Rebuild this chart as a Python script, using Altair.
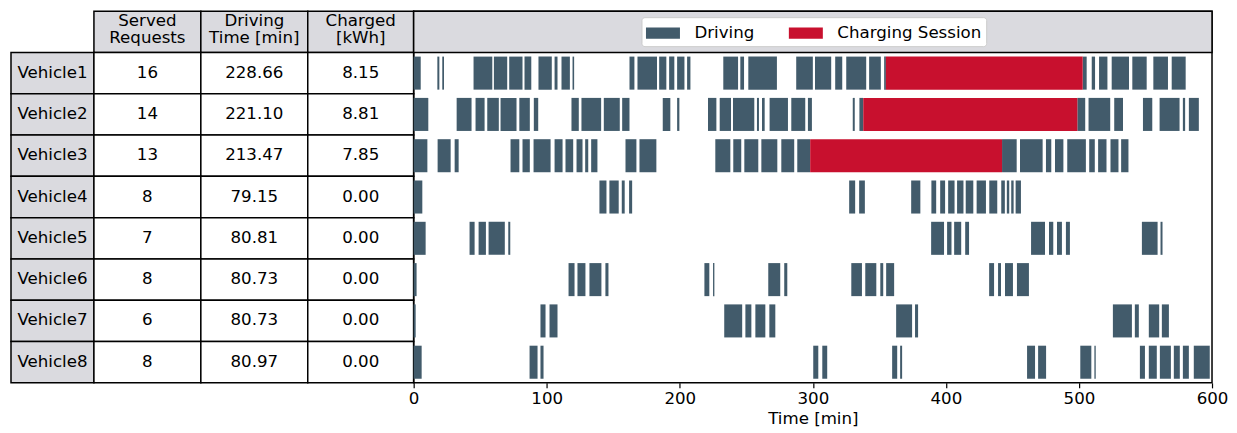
import altair as alt
import pandas as pd

# ---------------- data ----------------
vehicles = ["Vehicle1", "Vehicle2", "Vehicle3", "Vehicle4",
            "Vehicle5", "Vehicle6", "Vehicle7", "Vehicle8"]
served_requests = [16, 14, 13, 8, 7, 8, 6, 8]
driving_time_min = [228.66, 221.10, 213.47, 79.15, 80.81, 80.73, 80.73, 80.97]
charged_kwh = [8.15, 8.81, 7.85, 0.00, 0.00, 0.00, 0.00, 0.00]
header_labels = ["Served\nRequests", "Driving\nTime [min]", "Charged\n[kWh]"]

driving_v1 = [(0, 5.3), (17.8, 19.3), (21.5, 22.8), (45.0, 59.1), (60.3, 70.3), (71.8, 81.8),
              (83.3, 88.4), (93.8, 103.8), (105.9, 108.1), (111.1, 117.4), (119.4, 120.6),
              (162.2, 165.9), (168.2, 182.9), (184.5, 189.9), (192.0, 195.9), (198.0, 203.5),
              (205.5, 208.0), (232.7, 243.8), (245.5, 248.3), (251.5, 273.0), (287.5, 300.0),
              (301.6, 313.8), (316.8, 322.1), (325.1, 340.1), (342.3, 351.1), (353.6, 354.9),
              (502.8, 505.8), (509.6, 512.1), (515.1, 521.4), (524.6, 537.6), (540.1, 550.9),
              (555.9, 566.9), (569.7, 580.2)]
driving_v2 = [(0, 11.0), (32.3, 43.5), (46.5, 53.3), (55.3, 64.0), (65.3, 77.3), (79.4, 87.3),
              (90.3, 93.6), (118.6, 124.1), (126.1, 140.9), (142.9, 154.9), (156.7, 162.2),
              (187.2, 192.9), (198.0, 199.7), (221.2, 227.5), (230.0, 238.5), (240.0, 256.0),
              (258.0, 259.5), (261.8, 263.8), (267.5, 281.3), (283.8, 294.3), (296.3, 299.3),
              (330.0, 331.5), (335.0, 337.9), (498.8, 504.7), (507.2, 523.5), (526.5, 533.1),
              (548.1, 555.1), (560.6, 575.6), (578.1, 579.8), (582.6, 590.1)]
driving_v3 = [(0, 10.3), (18.0, 27.8), (30.8, 33.8), (72.8, 79.4), (81.8, 87.3), (90.1, 102.9),
              (105.9, 111.9), (114.1, 119.9), (122.4, 126.9), (128.9, 131.2), (133.4, 138.1),
              (159.2, 167.4), (169.7, 182.4), (226.7, 238.0), (240.2, 246.2), (248.5, 259.0),
              (261.3, 273.3), (276.3, 286.0), (288.3, 298.0), (442.2, 453.2), (455.7, 472.7),
              (475.2, 479.2), (482.0, 488.3), (491.2, 505.2), (507.7, 511.9), (514.4, 520.7),
              (523.7, 529.7), (531.7, 537.2)]
driving_v4 = [(0, 6.5), (139.6, 144.9), (147.1, 154.1), (156.4, 158.6), (161.9, 164.2),
              (327.3, 331.8), (334.8, 339.1), (373.9, 380.8), (389.1, 392.7), (395.7, 399.4),
              (401.7, 406.5), (408.4, 413.2), (414.9, 420.6), (423.1, 430.1), (432.6, 438.6),
              (441.6, 444.3), (445.8, 447.6), (449.1, 450.9), (452.4, 456.4)]
driving_v5 = [(0, 9.0), (42.0, 45.8), (48.8, 54.3), (56.3, 68.5), (71.1, 72.6), (388.9, 398.6),
              (400.9, 404.2), (406.2, 411.5), (414.5, 417.4), (464.0, 474.5), (477.5, 480.7),
              (483.5, 487.2), (490.2, 493.2), (547.3, 559.1), (561.3, 562.8)]
driving_v6 = [(0, 2.2), (116.4, 120.9), (123.1, 129.1), (132.1, 141.1), (144.1, 146.4),
              (218.5, 222.2), (225.0, 226.0), (266.5, 275.5), (278.5, 280.8), (328.9, 336.9),
              (339.4, 347.7), (350.7, 352.9), (355.1, 361.1), (432.5, 436.2), (439.2, 441.4),
              (444.4, 450.4), (453.4, 462.4)]
driving_v7 = [(0, 1.5), (95.3, 99.1), (102.1, 108.1), (233.4, 246.9), (249.3, 253.8),
              (256.8, 264.3), (267.3, 271.8), (362.6, 374.6), (376.8, 379.1), (525.5, 539.8),
              (542.0, 545.0), (552.5, 560.3), (562.3, 567.6)]
driving_v8 = [(0, 6.0), (87.1, 93.1), (95.3, 97.6), (300.3, 304.1), (307.1, 310.8),
              (359.6, 363.4), (365.6, 367.1), (461.0, 467.0), (469.3, 475.3), (501.0, 509.3),
              (511.6, 512.6), (545.8, 549.6), (552.5, 558.5), (560.8, 569.1), (571.3, 575.8),
              (578.1, 582.6), (586.3, 598.3)]
driving_all = [driving_v1, driving_v2, driving_v3, driving_v4,
               driving_v5, driving_v6, driving_v7, driving_v8]

charging_vehicles = ["Vehicle1", "Vehicle2", "Vehicle3"]
charging_start = [354.9, 337.9, 298.0]
charging_end = [502.8, 498.8, 442.2]

kinds = ["Driving", "Charging Session"]
time_ticks = [0, 100, 200, 300, 400, 500, 600]

# ---------------- style / layout ----------------
FONT = "DejaVu Sans"
FS = 16.67
C_DRIVE = "#425B6B"
C_CHARGE = "#C8102E"
GRAY = "#DADADF"
col_widths = [83, 107, 107, 106]   # table column widths in px (layout)
TABLE_W = sum(col_widths)
GANTT_W = 799
H = 372

rows_domain = ["header"] + vehicles
y_scale = alt.Scale(domain=rows_domain, paddingInner=0, paddingOuter=0)

# ---------------- table ----------------
edges = [0]
for w in col_widths:
    edges.append(edges[-1] + w)

cells = []
for j, lab in enumerate(header_labels):
    cells.append(dict(row="header", x0=edges[j + 1], x1=edges[j + 2], label=lab,
                      fill=GRAY, kind="head"))
for i, v in enumerate(vehicles):
    vals = [v, str(served_requests[i]), f"{driving_time_min[i]:.2f}", f"{charged_kwh[i]:.2f}"]
    for j, t in enumerate(vals):
        cells.append(dict(row=v, x0=edges[j], x1=edges[j + 1], label=t,
                          fill=GRAY if j == 0 else "white", kind="body"))
cells_df = pd.DataFrame(cells)

tx = alt.Scale(domain=[0, TABLE_W], nice=False, zero=False)
table_base = alt.Chart(cells_df)
table_rect = table_base.mark_rect(stroke="black", strokeWidth=1.5).encode(
    x=alt.X("x0:Q", scale=tx, axis=None),
    x2="x1:Q",
    y=alt.Y("row:N", scale=y_scale, axis=None),
    fill=alt.Fill("fill:N", scale=None),
)


def cell_text(kind, dy):
    return table_base.transform_filter(alt.datum.kind == kind).transform_calculate(
        xc="(datum.x0 + datum.x1) / 2"
    ).mark_text(font=FONT, fontSize=FS, lineBreak="\n", lineHeight=17.5, dy=dy,
                color="black", baseline="middle").encode(
        x=alt.X("xc:Q", scale=tx, axis=None),
        y=alt.Y("row:N", scale=y_scale, axis=None),
        text="label:N",
    )


table = alt.layer(table_rect, cell_text("head", -11), cell_text("body", -0.5)).properties(
    width=TABLE_W, height=H, view=alt.ViewBackground(strokeWidth=0, stroke="transparent")
)

# ---------------- gantt ----------------
bars = []
for v, segs in zip(vehicles, driving_all):
    for s, e in segs:
        bars.append(dict(row=v, start=s, end=e, kind="Driving"))
for v, s, e in zip(charging_vehicles, charging_start, charging_end):
    bars.append(dict(row=v, start=s, end=e, kind="Charging Session"))
bars_df = pd.DataFrame(bars)

head_df = pd.DataFrame({"row": ["header"], "start": [time_ticks[0]], "end": [time_ticks[-1]]})

gx = alt.Scale(domain=[time_ticks[0], time_ticks[-1]], nice=False, zero=False)

header_band = alt.Chart(head_df).mark_rect(fill=GRAY, stroke="black", strokeWidth=1.5).encode(
    x=alt.X("start:Q", scale=gx),
    x2="end:Q",
    y=alt.Y("row:N", scale=y_scale, axis=None),
)

gantt_bars = alt.Chart(bars_df).mark_bar(height={"band": 0.8}).encode(
    x=alt.X("start:Q", scale=gx,
            axis=alt.Axis(values=time_ticks, title="Time [min]", grid=False, domain=False,
                          labelFlush=False,
                          tickColor="black", tickWidth=1.2, tickSize=5,
                          labelFont=FONT, labelFontSize=FS, labelColor="black", labelPadding=3,
                          titleFont=FONT, titleFontSize=FS, titleFontWeight="normal",
                          titleColor="black", titlePadding=3, format="d")),
    x2="end:Q",
    y=alt.Y("row:N", scale=y_scale, axis=None),
    color=alt.Color("kind:N",
                    scale=alt.Scale(domain=kinds, range=[C_DRIVE, C_CHARGE]),
                    legend=alt.Legend(title=None, orient="none", legendX=228, legendY=6,
                                      direction="horizontal", columns=2,
                                      symbolType="M-1.5,-0.5L1.5,-0.5L1.5,0.5L-1.5,0.5Z",
                                      symbolSize=514, symbolStrokeWidth=0, symbolOpacity=1,
                                      symbolOffset=6,
                                      labelFont=FONT, labelFontSize=FS, labelColor="black",
                                      labelOffset=20, columnPadding=34, padding=4,
                                      fillColor="white", strokeColor="#CCCCCC",
                                      cornerRadius=3)),
)

gantt = alt.layer(header_band, gantt_bars).properties(
    width=GANTT_W, height=H,
    view=alt.ViewBackground(stroke="black", strokeWidth=1.5),
)

pad = {"left": 2, "top": 1, "right": 0, "bottom": 0}
chart = alt.hconcat(table, gantt, spacing=0, bounds="flush").resolve_scale(
    color="independent", y="shared"
).resolve_legend(color="independent").properties(
    padding=pad
).configure(background="white", padding=pad)

chart.save("out.html", embed_options={"renderer": "svg", "actions": False})
